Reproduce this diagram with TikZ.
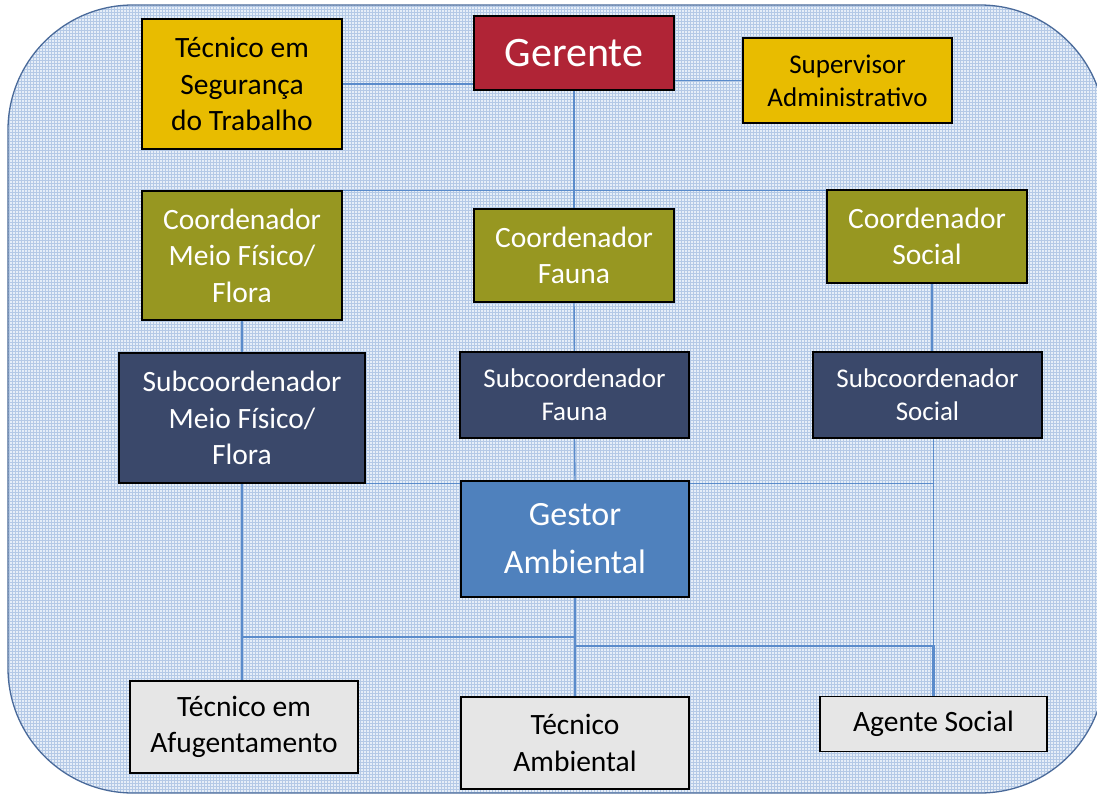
\documentclass[tikz,border=0pt]{standalone}
\usepackage{fontspec}
\setmainfont{Carlito}
\usetikzlibrary{patterns}

\definecolor{bgblue}{HTML}{E6EEF8}
\definecolor{gridblue}{HTML}{B4C9E6}
\definecolor{rimblue}{HTML}{4A6A9A}
\definecolor{linkblue}{HTML}{5A8BCB}
\definecolor{goldbox}{HTML}{E8BC00}
\definecolor{olivebox}{HTML}{979721}
\definecolor{redbox}{HTML}{B02436}
\definecolor{navybox}{HTML}{3A486A}
\definecolor{bluebox}{HTML}{4F81BD}
\definecolor{greybox}{HTML}{E6E6E6}

\pgfdeclarelayer{backdrop}
\pgfdeclarelayer{links}
\pgfsetlayers{backdrop,links,main}

\tikzset{
  box/.style={draw=black, line width=1.3pt, align=center, inner sep=0pt},
  goldrole/.style={box, fill=goldbox, text=black},
  oliverole/.style={box, fill=olivebox, text=white},
  navyrole/.style={box, fill=navybox, text=white},
  greyrole/.style={box, fill=greybox, text=black},
  link/.style={draw=linkblue, line width=1.4pt},
  big/.style={font=\fontsize{29.5}{36.5}\selectfont},
  small/.style={font=\fontsize{27}{33}\selectfont}
}

\begin{document}
\begin{tikzpicture}[x=1pt, y=-1pt]
  \useasboundingbox (0,0) rectangle (1097,795);
  \clip (0,0) rectangle (1097,795);
  % background
  \begin{pgfonlayer}{backdrop}
    \fill[bgblue, rounded corners=125pt] (8,5) rectangle (1105,793);
    \fill[pattern=grid, pattern color=gridblue, rounded corners=125pt] (8,5) rectangle (1105,793);
    \draw[rimblue, line width=1.3pt, rounded corners=125pt] (8,5) rectangle (1105,793);
  \end{pgfonlayer}

  % top row
  \node[goldrole, big, minimum width=200pt, minimum height=130pt] (tecseg) at (242,84) {Técnico em\\Segurança\\do Trabalho};
  \node[box, fill=redbox, text=white, font=\fontsize{42}{50}\selectfont, minimum width=200pt, minimum height=74pt] (ger) at (574,53) {Gerente};
  \node[goldrole, small, minimum width=209pt, minimum height=85pt] (sup) at (847.5,80.5) {Supervisor\\Administrativo};

  % coordenadores
  \node[oliverole, big, minimum width=200pt, minimum height=129pt] (cmf) at (242,255.5) {Coordenador\\Meio Físico/\\Flora};
  \node[oliverole, big, minimum width=200pt, minimum height=93pt] (cfa) at (574,255.5) {Coordenador\\Fauna};
  \node[oliverole, big, minimum width=200pt, minimum height=93pt] (csoc) at (927,236.5) {Coordenador\\Social};

  % subcoordenadores
  \node[navyrole, big, minimum width=246pt, minimum height=130pt] (smf) at (242,418) {Subcoordenador\\Meio Físico/\\Flora};
  \node[navyrole, small, minimum width=229pt, minimum height=86pt] (sfa) at (574.5,395) {Subcoordenador\\Fauna};
  \node[navyrole, small, minimum width=229pt, minimum height=86pt] (ssoc) at (927.5,395) {Subcoordenador\\Social};

  % gestor
  \node[box, fill=bluebox, text=white, font=\fontsize{34}{48}\selectfont, minimum width=228pt, minimum height=116pt] (ges) at (575,539) {Gestor\\Ambiental};

  % tecnicos
  \node[greyrole, big, minimum width=228pt, minimum height=92pt] (tecaf) at (244,727) {Técnico em\\Afugentamento};
  \node[greyrole, big, minimum width=228pt, minimum height=92pt] (tecam) at (575,743) {Técnico\\Ambiental};
  \node[greyrole, big, minimum width=227pt, minimum height=55pt] (agt) at (933.5,724) {Agente Social};

  \coordinate (j1) at (575,637);
  \coordinate (j2) at (575,646);

  % connectors
  \begin{pgfonlayer}{links}
    \draw[link] (tecseg.east) -- (tecseg.east -| ger.west);
    \draw[link] (sup.west) -- (sup.west -| ger.east);
    \draw[link] (ger.south) -- (ger.south |- cmf.north);
    \draw[link] (cmf.north west) -- (cmf.north west -| csoc.north east);
    \draw[link] (cfa.north |- cmf.north) -- (cfa.north);
    \draw[link] (cmf.south) -- (smf.north);
    \draw[link] (cfa.south) -- (sfa.north);
    \draw[link] (sfa.south) -- (ges.north);
    \draw[link] ([xshift=5pt]csoc.south) -- ([xshift=5pt]csoc.south |- ssoc.north);
    \draw[link] (smf.south) -- (smf.south -| ges.west);
    \draw[link] (ges.east |- smf.south) -- (agt.north |- smf.south);
    \draw[link] (agt.north |- ssoc.south) -- (agt.north);
    \draw[link] (smf.south) -- (smf.south |- tecaf.north);
    \draw[link] (ges.south) -- (tecam.north);
    \draw[link] (j1) -- (j1 -| smf.south);
    \draw[link, line width=2.2pt] (j2) -- (j2 -| agt.north) -- (agt.north);
  \end{pgfonlayer}
\end{tikzpicture}
\end{document}
